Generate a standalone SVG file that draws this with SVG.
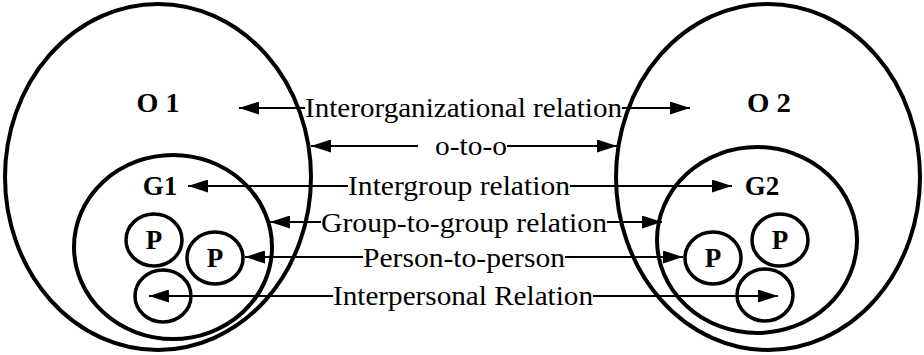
<svg xmlns="http://www.w3.org/2000/svg" width="924" height="355" viewBox="0 0 924 355">
<style>
.big{fill:none;stroke:#000;stroke-width:4}
.sm{fill:none;stroke:#000;stroke-width:3.5}
.bl{font-family:"Liberation Serif","Times New Roman",serif;font-weight:bold;font-size:27px;fill:#000;text-anchor:middle}
.lb{font-family:"Liberation Serif","Times New Roman",serif;font-size:28px;fill:#000}
.ln{stroke:#000;stroke-width:2;fill:none;marker-end:url(#ah)}
</style>
<defs>
<marker id="ah" markerUnits="userSpaceOnUse" markerWidth="20" markerHeight="13" refX="20" refY="6.5" orient="auto">
<path d="M0,0 L20,6.5 L0,13 z" fill="#000"/>
</marker>
</defs>
<rect width="924" height="355" fill="#fff"/>
<g id="O1"><ellipse class="big" cx="158" cy="177" rx="153" ry="173"/><text class="bl" x="158" y="112" textLength="43" lengthAdjust="spacingAndGlyphs">O 1</text></g>
<g id="O2"><ellipse class="big" cx="768" cy="177" rx="152" ry="173"/><text class="bl" x="769" y="112" textLength="44" lengthAdjust="spacingAndGlyphs">O 2</text></g>
<g id="G1"><ellipse class="big" cx="173" cy="247" rx="99" ry="92"/><text class="bl" x="160" y="195">G1</text></g>
<g id="G2"><ellipse class="big" cx="757" cy="240" rx="100" ry="93"/><text class="bl" x="762" y="195">G2</text></g>
<g id="P1L"><ellipse class="sm" cx="154" cy="240" rx="28" ry="26"/><text class="bl" x="154" y="249">P</text></g>
<g id="P2L"><ellipse class="sm" cx="215" cy="258" rx="28" ry="26"/><text class="bl" x="215" y="267">P</text></g>
<g id="P3L"><ellipse class="sm" cx="163" cy="296" rx="28" ry="26"/></g>
<g id="P1R"><ellipse class="sm" cx="713" cy="258" rx="28" ry="26"/><text class="bl" x="713" y="267">P</text></g>
<g id="P2R"><ellipse class="sm" cx="780" cy="240" rx="28" ry="26"/><text class="bl" x="780" y="249">P</text></g>
<g id="P3R"><ellipse class="sm" cx="765" cy="295" rx="28" ry="26"/></g>
<g id="connectors">
<path class="ln" d="M305,108 H239"/><path class="ln" d="M622,108 H690"/>
<path class="ln" d="M418,146 H311"/><path class="ln" d="M507,146 H617"/>
<path class="ln" d="M348,186 H188"/><path class="ln" d="M570,186 H732"/>
<path class="ln" d="M321,222 H270"/><path class="ln" d="M607,222 H662"/>
<path class="ln" d="M363,257 H245"/><path class="ln" d="M565,257 H683"/>
<path class="ln" d="M333,296 H149"/><path class="ln" d="M593,296 H778"/>
<text class="lb" x="305" y="117" textLength="317" lengthAdjust="spacingAndGlyphs">Interorganizational relation</text>
<text class="lb" x="435" y="155" textLength="72" lengthAdjust="spacingAndGlyphs">o-to-o</text>
<text class="lb" x="348" y="195" textLength="222" lengthAdjust="spacingAndGlyphs">Intergroup relation</text>
<text class="lb" x="321" y="232" textLength="286" lengthAdjust="spacingAndGlyphs">Group-to-group relation</text>
<text class="lb" x="363" y="267" textLength="202" lengthAdjust="spacingAndGlyphs">Person-to-person</text>
<text class="lb" x="333" y="305" textLength="260" lengthAdjust="spacingAndGlyphs">Interpersonal Relation</text>
</g>
</svg>
